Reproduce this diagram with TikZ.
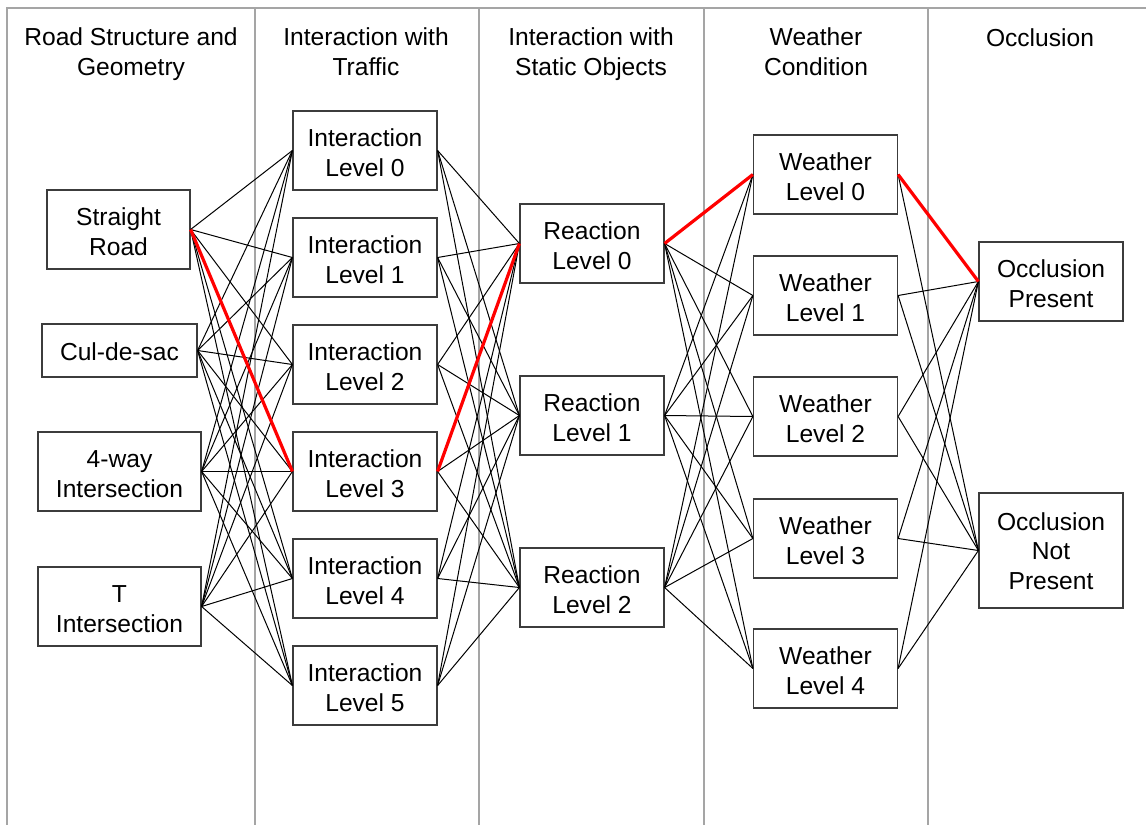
\documentclass[tikz,border=0pt]{standalone}
\usepackage{fontspec}
\setmainfont{Liberation Sans}
\usetikzlibrary{positioning}
\definecolor{boxgray}{RGB}{60,60,60}
\definecolor{sepgray}{RGB}{165,165,165}

\begin{document}
\begin{tikzpicture}[
        x=0.5pt, y=-0.5pt,
        font=\fontsize{12.3}{14.75}\selectfont,
        levelNode/.style={rectangle, draw=boxgray, line width=0.6pt, fill=white, align=center, minimum width=72pt, minimum height=39.5pt, inner sep=2pt, text height=25.5pt, text depth=0pt},
        headNode/.style={align=center, inner sep=0pt, execute at begin node=\strut, execute at end node=\strut},
        sepLine/.style={draw=sepgray, line width=0.9pt},
        link/.style={draw=black, line width=0.5pt},
        chosen/.style={draw=red, line width=1.6pt}
    ]
        \useasboundingbox (0,0) rectangle (1146,825);
        \draw[sepLine] (1146,8) -- (7,8) -- (7,825);
        \foreach \x in {255,479,704,928}
            \draw[sepLine] (\x,8) -- (\x,825);

        \node[headNode] (headRoad) at (131,56) {Road Structure and\\Geometry};
        \node[headNode] (headTraffic) at (366,56) {Interaction with\\Traffic};
        \node[headNode] (headStatic) at (591,56) {Interaction with\\Static Objects};
        \node[headNode] (headWeather) at (816,56) {Weather\\Condition};
        \node[headNode] (headOcclusion) at (1040,40.1) {Occlusion};

        \node[levelNode, minimum width=71.5pt] (road) at (118.5,229.5) {Straight\\Road};
        \node[levelNode, minimum width=77.5pt, minimum height=26.5pt, text height=9.5pt] (culdesac) at (119.5,350.5) {Cul-de-sac};
        \node[levelNode, minimum width=81.5pt] (fourway) at (119.5,471.5) {4-way\\Intersection};
        \node[levelNode, minimum width=81.5pt] (tinter) at (119.5,606.5) {T\\Intersection};

        \foreach \i in {0,...,5}
            \node[levelNode] (inter\i) at (365,{150.5+107*\i}) {Interaction\\Level \i};
        \foreach \i in {0,1,2}
            \node[levelNode] (react\i) at (592,{243.5+172*\i}) {Reaction\\Level \i};
        \foreach \y [count=\i from 0] in {174.5,295.5,416.5,538.5,668.5}
            \node[levelNode] (weather\i) at (825.5,\y) {Weather\\Level \i};

        \node[levelNode] (occYes) at (1051,281.5) {Occlusion\\Present};
        \node[levelNode, minimum height=57.5pt, text height=38.5pt] (occNo) at (1051,550.5) {Occlusion\\Not\\Present};

        % every pair of neighbouring columns
        \foreach \a in {road,culdesac,fourway,tinter}
            \foreach \b in {0,...,5}
                \draw[link] (\a.east) -- (inter\b.west);
        \foreach \a in {0,...,5}
            \foreach \b in {0,1,2}
                \draw[link] (inter\a.east) -- (react\b.west);
        \foreach \a in {0,1,2}
            \foreach \b in {0,...,4}
                \draw[link] (react\a.east) -- (weather\b.west);
        \foreach \a in {0,...,4}
            \foreach \b in {occYes,occNo}
                \draw[link] (weather\a.east) -- (\b.west);

        % highlighted path
        \draw[chosen] (road.east) -- (inter3.west);
        \draw[chosen] (inter3.east) -- (react0.west);
        \draw[chosen] (react0.east) -- (weather0.west);
        \draw[chosen] (weather0.east) -- (occYes.west);
    \end{tikzpicture}
\end{document}
